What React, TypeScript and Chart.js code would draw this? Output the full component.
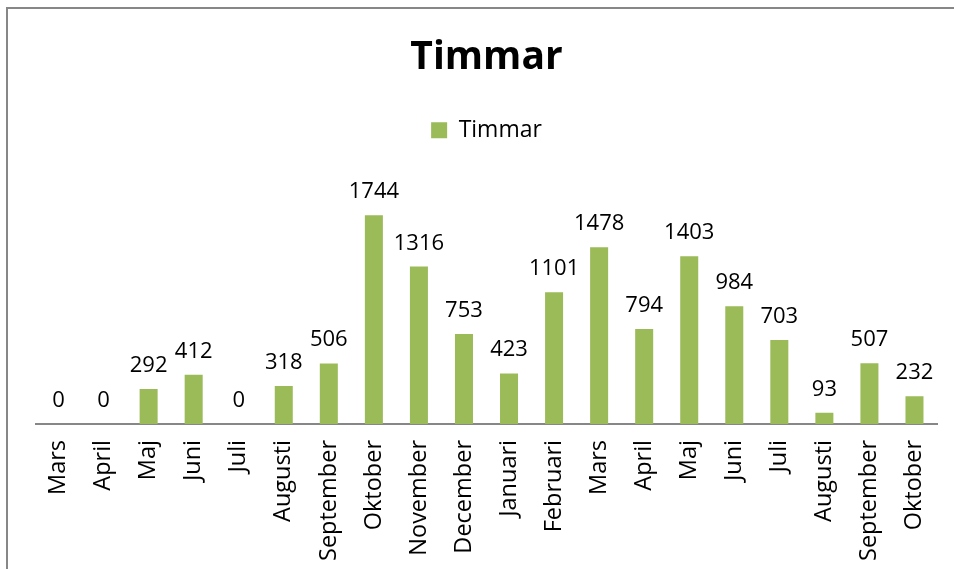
import React, { useEffect, useRef } from "react";
import { Chart, registerables } from "chart.js";

Chart.register(...registerables);

const categories = [
  "Mars", "April", "Maj", "Juni", "Juli", "Augusti", "September", "Oktober",
  "November", "December", "Januari", "Februari", "Mars", "April", "Maj",
  "Juni", "Juli", "Augusti", "September", "Oktober",
];
const timmar = [0, 0, 292, 412, 0, 318, 506, 1744, 1316, 753, 423, 1101, 1478, 794, 1403, 984, 703, 93, 507, 232];
const seriesName = "Timmar";
const chartTitle = "Timmar";

const FONT = "'Open Sans', sans-serif";

const frameAndLabels = {
  id: "frameAndLabels",
  afterDatasetsDraw(chart: any) {
    const ctx = chart.ctx;
    const meta = chart.getDatasetMeta(0);
    ctx.save();
    ctx.font = `22px ${FONT}`;
    ctx.fillStyle = "#000";
    ctx.textAlign = "center";
    ctx.textBaseline = "alphabetic";
    meta.data.forEach((bar: any, i: number) => {
      const v = chart.data.datasets[0].data[i];
      ctx.fillText(String(v), bar.x, bar.y - 17);
    });
    ctx.restore();
  },
  afterDraw(chart: any) {
    const ctx = chart.ctx;
    ctx.save();
    ctx.strokeStyle = "#878787";
    ctx.lineWidth = 2;
    ctx.beginPath();
    ctx.moveTo(7, 569);
    ctx.lineTo(7, 8);
    ctx.lineTo(954, 8);
    ctx.stroke();
    ctx.restore();
  },
};

export default function App() {
  const ref = useRef<HTMLCanvasElement | null>(null);
  useEffect(() => {
    if (!ref.current) return;
    const chart = new Chart(ref.current, {
      type: "bar",
      data: {
        labels: categories,
        datasets: [
          {
            label: seriesName,
            data: timmar,
            backgroundColor: "#9BBB59",
            borderWidth: 0,
            barPercentage: 0.4,
            categoryPercentage: 1,
          },
        ],
      },
      options: {
        animation: false,
        responsive: false,
        layout: { padding: { left: 36, right: 17, top: 0, bottom: 0 } },
        plugins: {
          title: {
            display: true,
            text: chartTitle,
            color: "#000",
            font: { family: FONT, size: 39, weight: "bold", lineHeight: 1.2 },
            padding: { top: 34, bottom: 28 },
          },
          legend: {
            display: true,
            position: "top",
            labels: {
              boxWidth: 16,
              boxHeight: 16,
              color: "#000",
              font: { family: FONT, size: 23 },
              padding: 10,
            },
          },
          tooltip: { enabled: false },
        },
        scales: {
          x: {
            grid: { display: false },
            border: { display: true, color: "#878787", width: 2 },
            ticks: {
              autoSkip: false,
              minRotation: 90,
              maxRotation: 90,
              color: "#000",
              font: { family: FONT, size: 23.5 },
              padding: 8,
            },
            afterFit(scale: any) {
              scale.height = 145;
            },
          },
          y: {
            display: false,
            min: 0,
            max: 2275,
          },
        },
      },
      plugins: [frameAndLabels],
    } as any);
    return () => chart.destroy();
  }, []);
  return (
    <div style={{ position: "absolute", left: 0, top: 0, width: 954, height: 569, background: "#fff" }}>
      <canvas ref={ref} width={954} height={569} style={{ display: "block" }} />
    </div>
  );
}
